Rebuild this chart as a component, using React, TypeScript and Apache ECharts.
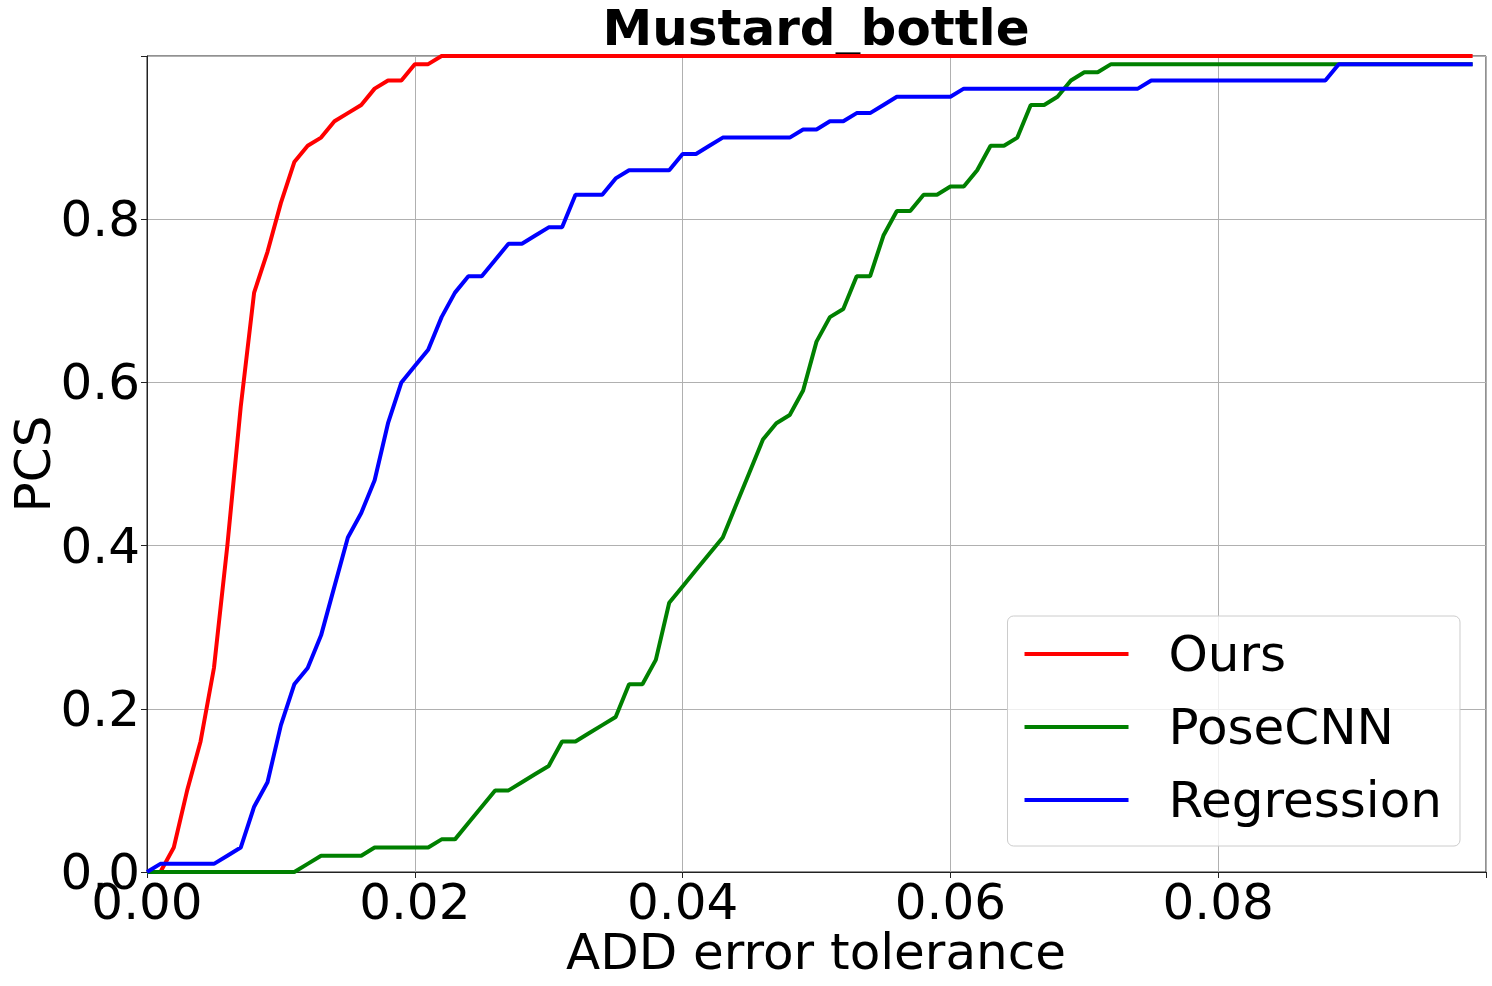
import React, { useEffect, useRef } from "react";
import * as echarts from "echarts";

const TITLE = "Mustard_bottle";
const X_NAME = "ADD error tolerance";
const Y_NAME = "PCS";
const SERIES_NAMES = ["Ours", "PoseCNN", "Regression"];
const SERIES_COLORS = ["#ff0000", "#008000", "#0000ff"];

const TOLERANCE = [
  0.000, 0.001, 0.002, 0.003, 0.004, 0.005, 0.006, 0.007, 0.008, 0.009,
  0.010, 0.011, 0.012, 0.013, 0.014, 0.015, 0.016, 0.017, 0.018, 0.019,
  0.020, 0.021, 0.022, 0.023, 0.024, 0.025, 0.026, 0.027, 0.028, 0.029,
  0.030, 0.031, 0.032, 0.033, 0.034, 0.035, 0.036, 0.037, 0.038, 0.039,
  0.040, 0.041, 0.042, 0.043, 0.044, 0.045, 0.046, 0.047, 0.048, 0.049,
  0.050, 0.051, 0.052, 0.053, 0.054, 0.055, 0.056, 0.057, 0.058, 0.059,
  0.060, 0.061, 0.062, 0.063, 0.064, 0.065, 0.066, 0.067, 0.068, 0.069,
  0.070, 0.071, 0.072, 0.073, 0.074, 0.075, 0.076, 0.077, 0.078, 0.079,
  0.080, 0.081, 0.082, 0.083, 0.084, 0.085, 0.086, 0.087, 0.088, 0.089,
  0.090, 0.091, 0.092, 0.093, 0.094, 0.095, 0.096, 0.097, 0.098, 0.099,
];

const OURS = [
  0, 0, 0.03, 0.10, 0.16, 0.25, 0.40, 0.57, 0.71, 0.76,
  0.82, 0.87, 0.89, 0.90, 0.92, 0.93, 0.94, 0.96, 0.97, 0.97,
  0.99, 0.99, 1, 1, 1, 1, 1, 1, 1, 1,
  1, 1, 1, 1, 1, 1, 1, 1, 1, 1,
  1, 1, 1, 1, 1, 1, 1, 1, 1, 1,
  1, 1, 1, 1, 1, 1, 1, 1, 1, 1,
  1, 1, 1, 1, 1, 1, 1, 1, 1, 1,
  1, 1, 1, 1, 1, 1, 1, 1, 1, 1,
  1, 1, 1, 1, 1, 1, 1, 1, 1, 1,
  1, 1, 1, 1, 1, 1, 1, 1, 1, 1,
];

const POSECNN = [
  0, 0, 0, 0, 0, 0, 0, 0, 0, 0,
  0, 0, 0.01, 0.02, 0.02, 0.02, 0.02, 0.03, 0.03, 0.03,
  0.03, 0.03, 0.04, 0.04, 0.06, 0.08, 0.10, 0.10, 0.11, 0.12,
  0.13, 0.16, 0.16, 0.17, 0.18, 0.19, 0.23, 0.23, 0.26, 0.33,
  0.35, 0.37, 0.39, 0.41, 0.45, 0.49, 0.53, 0.55, 0.56, 0.59,
  0.65, 0.68, 0.69, 0.73, 0.73, 0.78, 0.81, 0.81, 0.83, 0.83,
  0.84, 0.84, 0.86, 0.89, 0.89, 0.90, 0.94, 0.94, 0.95, 0.97,
  0.98, 0.98, 0.99, 0.99, 0.99, 0.99, 0.99, 0.99, 0.99, 0.99,
  0.99, 0.99, 0.99, 0.99, 0.99, 0.99, 0.99, 0.99, 0.99, 0.99,
  0.99, 0.99, 0.99, 0.99, 0.99, 0.99, 0.99, 0.99, 0.99, 0.99,
];

const REGRESSION = [
  0, 0.01, 0.01, 0.01, 0.01, 0.01, 0.02, 0.03, 0.08, 0.11,
  0.18, 0.23, 0.25, 0.29, 0.35, 0.41, 0.44, 0.48, 0.55, 0.60,
  0.62, 0.64, 0.68, 0.71, 0.73, 0.73, 0.75, 0.77, 0.77, 0.78,
  0.79, 0.79, 0.83, 0.83, 0.83, 0.85, 0.86, 0.86, 0.86, 0.86,
  0.88, 0.88, 0.89, 0.90, 0.90, 0.90, 0.90, 0.90, 0.90, 0.91,
  0.91, 0.92, 0.92, 0.93, 0.93, 0.94, 0.95, 0.95, 0.95, 0.95,
  0.95, 0.96, 0.96, 0.96, 0.96, 0.96, 0.96, 0.96, 0.96, 0.96,
  0.96, 0.96, 0.96, 0.96, 0.96, 0.97, 0.97, 0.97, 0.97, 0.97,
  0.97, 0.97, 0.97, 0.97, 0.97, 0.97, 0.97, 0.97, 0.97, 0.99,
  0.99, 0.99, 0.99, 0.99, 0.99, 0.99, 0.99, 0.99, 0.99, 0.99,
];

const SERIES_VALUES = [OURS, POSECNN, REGRESSION];

const FONT = "DejaVu Sans";

export default function App() {
  const ref = useRef<HTMLDivElement>(null);

  useEffect(() => {
    if (!ref.current) return;
    const chart = echarts.init(ref.current, null, { renderer: "svg" });

    const series = SERIES_NAMES.map((name, k) => ({
      name,
      type: "line",
      data: TOLERANCE.map((x, i) => [x, SERIES_VALUES[k][i]]),
      symbol: "none",
      showSymbol: false,
      lineStyle: { color: SERIES_COLORS[k], width: 4 },
      itemStyle: { color: SERIES_COLORS[k] },
      z: 2 + k,
    }));

    chart.setOption({
      animation: false,
      backgroundColor: "#ffffff",
      textStyle: { fontFamily: FONT },
      grid: {
        left: 147,
        right: 6,
        top: 56,
        bottom: 114,
        containLabel: false,
        show: true,
        borderColor: "#222",
        borderWidth: 1,
      },
      xAxis: {
        type: "value",
        min: 0,
        max: 0.1,
        interval: 0.02,
        axisLine: { show: true, onZero: false, lineStyle: { color: "#222", width: 1 } },
        axisTick: { show: true, inside: false, length: 6, lineStyle: { color: "#222", width: 1 } },
        axisLabel: {
          show: true,
          margin: 5,
          fontSize: 50,
          fontFamily: FONT,
          color: "#000",
          formatter: (v: number) => (v > 0.099 ? "" : v.toFixed(2)),
        },
        splitLine: { show: true, lineStyle: { color: "#b0b0b0", width: 1 } },
      },
      yAxis: {
        type: "value",
        min: 0,
        max: 1,
        interval: 0.2,
        axisLine: { show: true, onZero: false, lineStyle: { color: "#222", width: 1 } },
        axisTick: { show: true, inside: false, length: 6, lineStyle: { color: "#222", width: 1 } },
        axisLabel: {
          show: true,
          margin: 7,
          fontSize: 50,
          fontFamily: FONT,
          color: "#000",
          formatter: (v: number) => (v > 0.99 ? "" : v.toFixed(1)),
        },
        splitLine: { show: true, lineStyle: { color: "#b0b0b0", width: 1 } },
      },
      legend: {
        orient: "vertical",
        right: 32,
        bottom: 140,
        icon: "rect",
        itemWidth: 104,
        itemHeight: 4,
        itemGap: 13,
        padding: [8, 18, 16, 17],
        backgroundColor: "rgba(255,255,255,0.8)",
        borderColor: "#cccccc",
        borderWidth: 1,
        borderRadius: 6,
        data: SERIES_NAMES,
        textStyle: {
          fontSize: 50,
          fontFamily: FONT,
          color: "#000",
          lineHeight: 60,
          padding: [0, 0, 0, 35],
        },
      },
      graphic: [
        {
          type: "text",
          x: 816,
          y: 28,
          style: {
            text: TITLE,
            align: "center",
            verticalAlign: "middle",
            fontSize: 50,
            fontWeight: "bold",
            fontFamily: FONT,
            fill: "#000",
          },
        },
        {
          type: "text",
          x: 816,
          y: 952,
          style: {
            text: X_NAME,
            align: "center",
            verticalAlign: "middle",
            fontSize: 50,
            fontFamily: FONT,
            fill: "#000",
          },
        },
        {
          type: "text",
          x: 33,
          y: 464,
          rotation: Math.PI / 2,
          style: {
            text: Y_NAME,
            align: "center",
            verticalAlign: "middle",
            fontSize: 50,
            fontFamily: FONT,
            fill: "#000",
          },
        },
      ],
      series,
    });

    return () => chart.dispose();
  }, []);

  return (
    <div
      ref={ref}
      style={{ position: "fixed", left: 0, top: 0, width: 1492, height: 986, background: "#fff" }}
    />
  );
}
